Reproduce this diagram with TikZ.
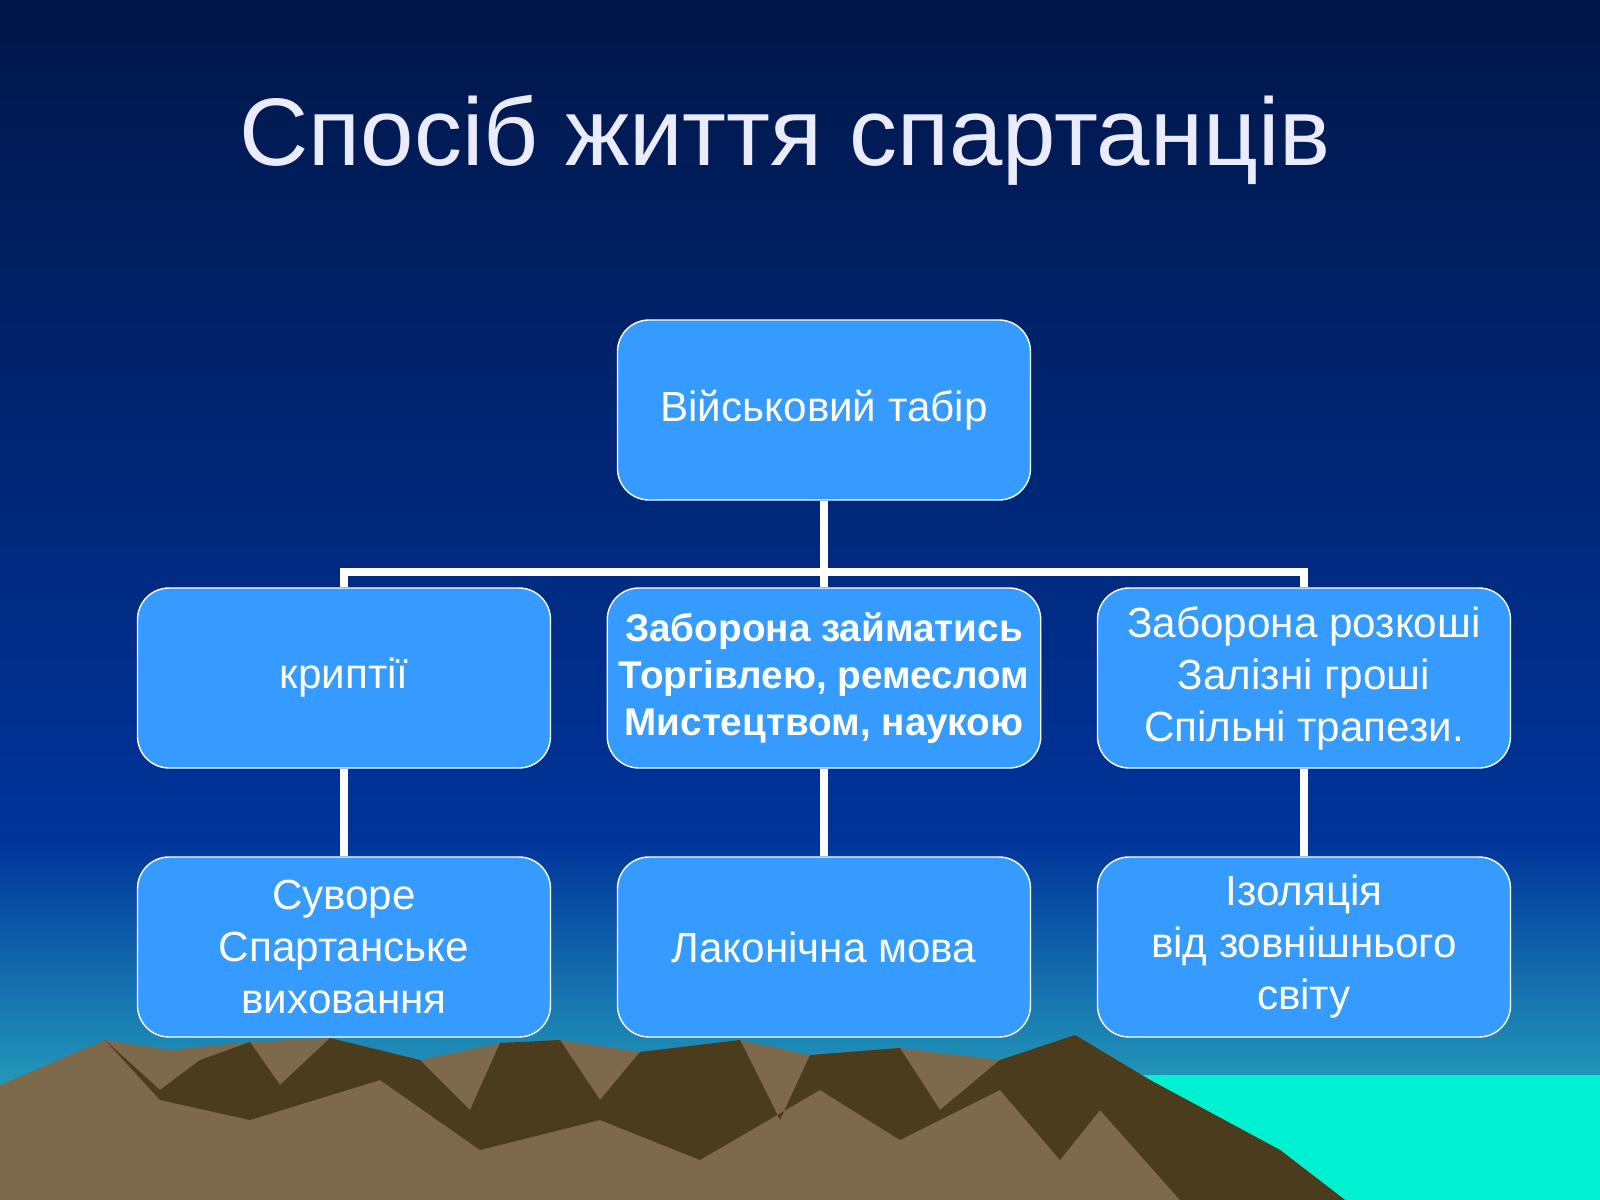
\documentclass[tikz,border=0pt]{standalone}
\usepackage{fontspec}
\setmainfont{Liberation Sans}
\usetikzlibrary{positioning}
\definecolor{skytop}{RGB}{0,22,72}
\definecolor{skymid}{RGB}{0,52,155}
\definecolor{skylow}{RGB}{50,200,200}
\definecolor{boxblue}{RGB}{54,155,255}
\definecolor{rock}{RGB}{125,105,75}
\definecolor{rockdark}{RGB}{75,60,30}
\definecolor{sea}{RGB}{0,240,210}

\begin{document}
\begin{tikzpicture}[
    x=0.1mm, y=-0.1mm,
    box/.style={
      rectangle,
      rounded corners=9pt,
      draw=white,
      thin,
      fill=boxblue,
      text=white,
      minimum width=41.3mm,
      minimum height=18mm,
      align=center,
      font=\fontsize{12}{14.8}\selectfont
    },
    link/.style={draw=white, line width=2pt}
  ]
    % background
    \shade[top color=skytop, bottom color=skymid] (0,0) rectangle (1600,840);
    \shade[top color=skymid, bottom color=skylow] (0,840) rectangle (1600,1200);
    \fill[sea] (1130,1075) rectangle (1600,1200);
    \fill[rock] (0,1085) -- (105,1040) -- (170,1050) -- (250,1042) -- (330,1038) -- (420,1060)
      -- (500,1043) -- (560,1040) -- (640,1052) -- (740,1040) -- (810,1055) -- (900,1048)
      -- (1000,1060) -- (1075,1035) -- (1150,1080) -- (1280,1150) -- (1345,1200) -- (0,1200) -- cycle;
    \fill[rockdark] (105,1040) -- (160,1090) -- (200,1060) -- (250,1042) -- (280,1085) -- (330,1038)
      -- (420,1060) -- (470,1110) -- (500,1043) -- (560,1040) -- (600,1100) -- (640,1052)
      -- (740,1040) -- (780,1120) -- (810,1055) -- (900,1048) -- (940,1110) -- (1000,1060)
      -- (1075,1035) -- (1150,1080) -- (1280,1150) -- (1345,1200) -- (1180,1200) -- (1100,1110)
      -- (1060,1160) -- (1000,1090) -- (900,1140) -- (820,1090) -- (700,1160) -- (600,1120)
      -- (480,1150) -- (380,1080) -- (250,1120) -- (160,1100) -- cycle;

    % title
    \node[text=white!92!blue, font=\fontsize{27.3}{32}\selectfont] (title) at (785,140) {Спосіб життя спартанців};

    % boxes
    \node[box] (camp) at (824,410) {Військовий табір};
    \node[box] (krypt) at (344,678) {криптії};
    \node[box, font=\fontsize{11}{13.4}\selectfont\bfseries] (ban) at (824,678) {Заборона займатись\\Торгівлею, ремеслом\\Мистецтвом, наукою};
    \node[box] (lux) at (1304,678) {Заборона розкоші\\Залізні гроші\\Спільні трапези.};
    \node[box] (edu) at (344,947) {Суворе\\Спартанське\\ виховання};
    \node[box] (lacon) at (824,947) {Лаконічна мова};
    \node[box] (iso) at (1304,947) {Ізоляція\\від зовнішнього\\світу};

    % connectors
    \coordinate (fork) at (824,572);
    \draw[link] (camp) -- (fork);
    \draw[link] (krypt.north) -- (krypt.north |- fork) -- (lux.north |- fork) -- (lux.north);
    \draw[link] (fork) -- (ban);
    \draw[link] (krypt) -- (edu);
    \draw[link] (ban) -- (lacon);
    \draw[link] (lux) -- (iso);

    \useasboundingbox (0,0) rectangle (1600,1200);
  \end{tikzpicture}
\end{document}
